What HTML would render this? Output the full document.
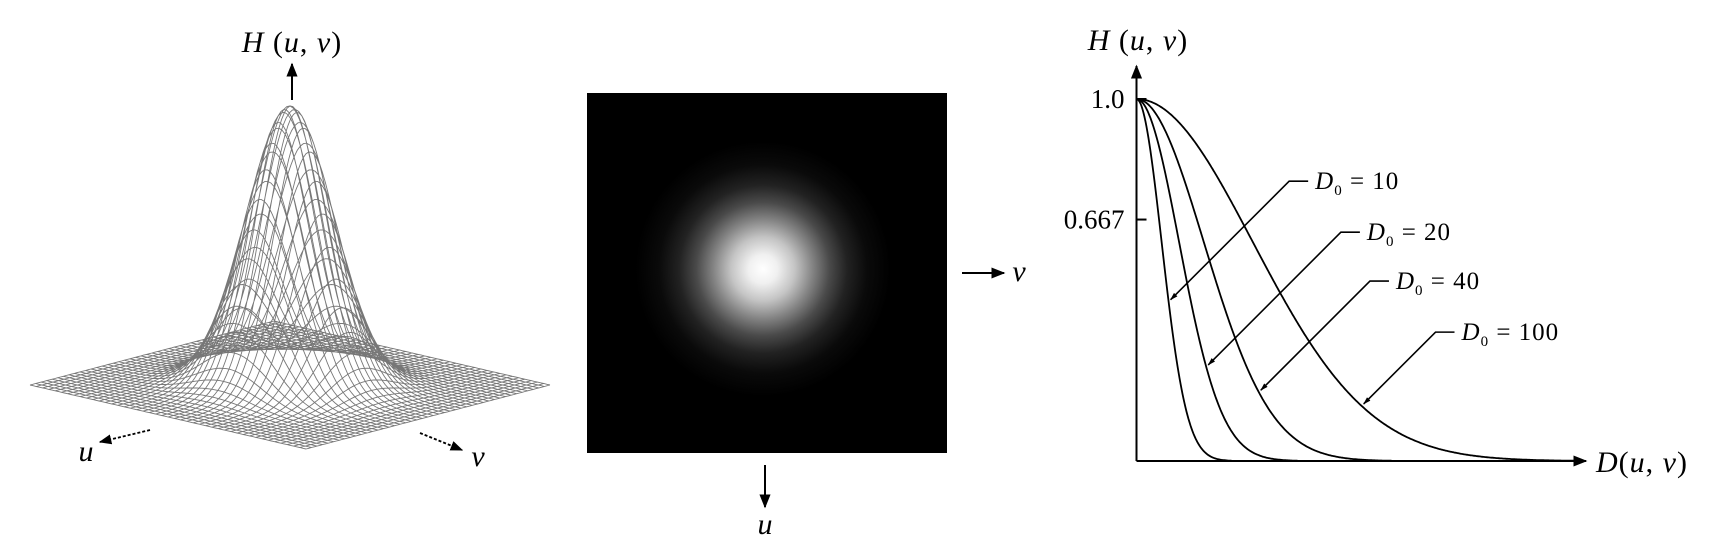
<!DOCTYPE html>
<html><head><meta charset="utf-8">
<style>
html,body{margin:0;padding:0;background:#fff;}
svg{display:block;}
text{font-family:"Liberation Serif",serif;fill:#000;}
.it{font-style:italic;}
</style></head>
<body>
<svg id="fig" width="1720" height="548" viewBox="0 0 1720 548">
<defs>
<marker id="ah" viewBox="0 0 10 10" refX="9" refY="5" markerWidth="7" markerHeight="7" orient="auto-start-reverse"><path d="M0,1 L10,5 L0,9 z" fill="#000"/></marker>
<marker id="sm" viewBox="0 0 10 10" refX="9" refY="5" markerWidth="5" markerHeight="5" orient="auto"><path d="M0,2 L10,5 L0,8 z" fill="#000"/></marker>
<radialGradient id="glow" cx="763" cy="269" r="145" gradientUnits="userSpaceOnUse">
<stop offset="0" stop-color="#fff"/>
<stop offset="0.1" stop-color="#f0f0f0"/>
<stop offset="0.22" stop-color="#c4c4c4"/>
<stop offset="0.34" stop-color="#858585"/>
<stop offset="0.46" stop-color="#4a4a4a"/>
<stop offset="0.58" stop-color="#222"/>
<stop offset="0.72" stop-color="#0a0a0a"/>
<stop offset="0.88" stop-color="#000"/>
<stop offset="1" stop-color="#000"/>
</radialGradient>
</defs>

<g id="mesh"></g>
<g>
<line x1="292" y1="100" x2="292" y2="64" stroke="#000" stroke-width="2" marker-end="url(#ah)"/>
<text x="292" y="52" font-size="30" text-anchor="middle" letter-spacing="1"><tspan class="it">H</tspan> (<tspan class="it">u</tspan>, <tspan class="it">v</tspan>)</text>
<line x1="150" y1="430" x2="100" y2="442" stroke="#000" stroke-width="1.8" stroke-dasharray="3,2" marker-end="url(#ah)"/>
<text x="86" y="461" font-size="30" class="it" text-anchor="middle">u</text>
<line x1="420" y1="433" x2="462" y2="450" stroke="#000" stroke-width="1.8" stroke-dasharray="3,2" marker-end="url(#ah)"/>
<text x="478" y="466" font-size="30" class="it" text-anchor="middle">v</text>
</g>

<g>
<rect x="587" y="93" width="360" height="360" fill="url(#glow)"/>
<line x1="962" y1="273" x2="1004" y2="273" stroke="#000" stroke-width="2" marker-end="url(#ah)"/>
<text x="1019" y="281" font-size="30" class="it" text-anchor="middle">v</text>
<line x1="765" y1="465" x2="765" y2="507" stroke="#000" stroke-width="2" marker-end="url(#ah)"/>
<text x="765" y="534" font-size="30" class="it" text-anchor="middle">u</text>
</g>

<g id="chart">
<line x1="1136.5" y1="461" x2="1136.5" y2="66" stroke="#000" stroke-width="2" marker-end="url(#ah)"/>
<line x1="1136.5" y1="461" x2="1586" y2="461" stroke="#000" stroke-width="2" marker-end="url(#ah)"/>
<text x="1138" y="50" font-size="30" text-anchor="middle" letter-spacing="1"><tspan class="it">H</tspan> (<tspan class="it">u</tspan>, <tspan class="it">v</tspan>)</text>
<text x="1596" y="472" font-size="30" letter-spacing="1"><tspan class="it">D</tspan>(<tspan class="it">u</tspan>, <tspan class="it">v</tspan>)</text>
<g id="ticks"></g>
<g id="curves"></g>
<g id="labels"></g>
</g>
</svg>
<script>
const NS="http://www.w3.org/2000/svg";
// chart data
const cutoffs=[10,20,40,100];
const tickValues=[1.0,0.667];
const tickLabels=["1.0","0.667"];
const labelTexts=["10","20","40","100"];
// H value where each leader arrow touches its curve
const arrowHValues=[0.44,0.26,0.19,0.152];
// label placement (layout, in H units above axis)
const labelHeights=[0.773,0.632,0.497,0.356];

const X0=1136.5,Y0=461,YH=362;
function sy(h){return Y0-h*YH;}
function sigmaPx(d0){return 13.3*Math.sqrt(d0)-17;}
function mk(tag,attrs,parent){const e=document.createElementNS(NS,tag);for(const k in attrs)e.setAttribute(k,attrs[k]);parent.appendChild(e);return e;}

const ticks=document.getElementById('ticks');
tickValues.forEach((v,i)=>{
  const l=mk('line',{x1:X0,x2:X0+10,y1:sy(v),y2:sy(v),stroke:'#000','stroke-width':2},ticks);
  
  
  const t=mk('text',{x:X0-12,y:sy(v)+9,'font-size':27,'text-anchor':'end'},ticks);
  t.textContent=tickLabels[i];
  
  
});

const curves=document.getElementById('curves');
const labels=document.getElementById('labels');
cutoffs.forEach((d0,i)=>{
  const s=sigmaPx(d0);
  const end=s*3.8;
  let d='';
  for(let p=0;p<=end;p+=1){
    const h=Math.exp(-p*p/(2*s*s));
    d+=(p?'L':'M')+(X0+p).toFixed(1)+','+sy(h).toFixed(1);
  }
  const path=mk('path',{d:d,fill:'none',stroke:'#000','stroke-width':1.8},curves);
  
  
  const ha=arrowHValues[i];
  const pa=s*Math.sqrt(-2*Math.log(ha));
  const tx=X0+pa, ty=sy(ha);
  const ly=sy(labelHeights[i]);
  const lx=tx+(ty-ly)*1.0;
  const lead=mk('polyline',{points:(lx+19)+','+ly+' '+lx+','+ly+' '+(tx+2)+','+(ty-2),fill:'none',stroke:'#000','stroke-width':1.6,'marker-end':'url(#sm)'},labels);
  
  
  const t=mk('text',{x:lx+26,y:ly+8,'font-size':25,'letter-spacing':'1'},labels);
  t.innerHTML='<tspan font-style="italic">D</tspan><tspan font-size="15" dy="6">0</tspan><tspan dy="-6"> = '+labelTexts[i]+'</tspan>';
  
  
});

const mesh=document.getElementById('mesh');
const N=44, sg=0.24;
function proj(u,v){
  const h=Math.exp(-(u*u+v*v)/(2*sg*sg));
  return [290+(v-u)*130+(u+v)*8, 385+(u+v)*32-h*279];
}
let md='';
for(let i=0;i<=N;i++){
  const a=-1+2*i/N;
  let p1='',p2='';
  for(let j=0;j<=N*2;j++){
    const b=-1+2*j/(N*2);
    const q1=proj(a,b),q2=proj(b,a);
    p1+=(j?'L':'M')+q1[0].toFixed(1)+','+q1[1].toFixed(1);
    p2+=(j?'L':'M')+q2[0].toFixed(1)+','+q2[1].toFixed(1);
  }
  md+=p1+p2;
}
const mp=mk('path',{d:md,fill:'none',stroke:'#777','stroke-width':0.9},mesh);


</script>
</body></html>
